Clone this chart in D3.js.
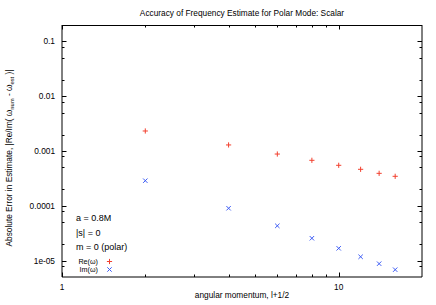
<!DOCTYPE html>
<html>
<head>
<meta charset="utf-8">
<script src="https://cdn.jsdelivr.net/npm/d3@7"></script>
<style>
  html, body { margin: 0; padding: 0; background: #fff; }
  svg { display: block; font-family: "Liberation Sans", Arial, sans-serif; }
</style>
</head>
<body>
<svg id="chart" width="436" height="305"></svg>
<script>
// ---- data ----
const angularMomentum = [2, 4, 6, 8, 10, 12, 14, 16];           // l + 1/2
const reError = [0.00232, 0.00129, 0.00088, 0.000676, 0.000548, 0.000463, 0.000391, 0.000345];
const imError = [2.87e-4, 9.0e-5, 4.3e-5, 2.55e-5, 1.67e-5, 1.17e-5, 8.75e-6, 6.8e-6];
const yTickValues = [0.1, 0.01, 0.001, 0.0001, 1e-5];
const yTickLabels = ["0.1", "0.01", "0.001", "0.0001", "1e-05"];
const xTickValues = [1, 10];
const xTickLabels = ["1", "10"];
const annotations = ["a = 0.8M", "|s| = 0", "m = 0 (polar)"];
const seriesNames = ["Re(\u03c9)", "Im(\u03c9)"];

// ---- layout ----
const L = 62, R = 422, T = 25, B = 277;
const x = d3.scaleLog().domain([1, 20]).range([L, R]);
const y = d3.scaleLog().domain([5e-6, 0.2]).range([B, T]);
const svg = d3.select("#chart");
const red = "#f2402f", blue = "#3d5cf5";
const fs = 8.3;

// minor ticks
const yMinor = [];
[-6, -5, -4, -3, -2, -1].forEach(e => [2, 5, 8].forEach(m => {
  const v = m * Math.pow(10, e);
  if (v > 5e-6 && v < 0.2) yMinor.push(v);
}));
const xMinor = [2, 3, 4, 5, 6, 7, 8, 9];

const g = svg.append("g");
const majLen = 4.5, minLen = 2.5;
// y ticks left & right
yTickValues.forEach(v => {
  const py = Math.round(y(v)) + 0.5;
  g.append("line").attr("x1", L).attr("x2", L + majLen).attr("y1", py).attr("y2", py).attr("stroke", "#000").attr("stroke-width", 1);
  g.append("line").attr("x1", R - majLen).attr("x2", R).attr("y1", py).attr("y2", py).attr("stroke", "#000").attr("stroke-width", 1);
});
yMinor.forEach(v => {
  const py = Math.round(y(v)) + 0.5;
  g.append("line").attr("x1", L).attr("x2", L + minLen).attr("y1", py).attr("y2", py).attr("stroke", "#000").attr("stroke-width", 1);
  g.append("line").attr("x1", R - minLen).attr("x2", R).attr("y1", py).attr("y2", py).attr("stroke", "#000").attr("stroke-width", 1);
});
// x ticks bottom & top
xTickValues.forEach(v => {
  const px = Math.round(x(v)) + 0.5;
  g.append("line").attr("x1", px).attr("x2", px).attr("y1", B).attr("y2", B - majLen).attr("stroke", "#000");
  g.append("line").attr("x1", px).attr("x2", px).attr("y1", T).attr("y2", T + majLen).attr("stroke", "#000");
});
xMinor.forEach(v => {
  const px = Math.round(x(v)) + 0.5;
  g.append("line").attr("x1", px).attr("x2", px).attr("y1", B).attr("y2", B - minLen).attr("stroke", "#000");
  g.append("line").attr("x1", px).attr("x2", px).attr("y1", T).attr("y2", T + minLen).attr("stroke", "#000");
});

// border
g.append("line").attr("x1", L).attr("x2", R).attr("y1", T + 0.5).attr("y2", T + 0.5).attr("stroke", "#000");
g.append("line").attr("x1", L).attr("x2", L).attr("y1", T).attr("y2", B).attr("stroke", "#000");
g.append("line").attr("x1", R).attr("x2", R).attr("y1", T).attr("y2", B).attr("stroke", "#000");
g.append("line").attr("x1", L).attr("x2", R).attr("y1", B).attr("y2", B).attr("stroke", "#000");

// tick labels
yTickValues.forEach((v, i) => {
  svg.append("text").attr("x", 55).attr("y", y(v)).attr("dy", "0.36em")
    .attr("text-anchor", "end").attr("font-size", fs).text(yTickLabels[i]);
});
xTickValues.forEach((v, i) => {
  svg.append("text").attr("x", x(v)).attr("y", 290)
    .attr("text-anchor", "middle").attr("font-size", fs).text(xTickLabels[i]);
});

// title
svg.append("text").attr("x", (L + R) / 2).attr("y", 16).attr("text-anchor", "middle")
  .attr("font-size", fs).text("Accuracy of Frequency Estimate for Polar Mode: Scalar");
// x label
svg.append("text").attr("x", (L + R) / 2).attr("y", 298).attr("text-anchor", "middle")
  .attr("font-size", fs).text("angular momentum, l+1/2");
// y label
const yl = svg.append("text").attr("transform", "translate(12,158) rotate(-90)")
  .attr("text-anchor", "middle").attr("font-size", fs);
yl.append("tspan").text("Absolute Error in Estimate, |Re/Im( \u03c9");
yl.append("tspan").attr("font-size", fs * 0.7).attr("dy", 2).text("num");
yl.append("tspan").attr("dy", -2).text(" - \u03c9");
yl.append("tspan").attr("font-size", fs * 0.7).attr("dy", 2).text("est");
yl.append("tspan").attr("dy", -2).text(" )|");

// annotations
annotations.forEach((t, i) => {
  svg.append("text").attr("x", 76).attr("y", 221 + i * 14.5).attr("font-size", 9).text(t);
});

// markers
function plus(sel, cx, cy, s) {
  sel.append("path").attr("d", `M${cx - s},${cy}H${cx + s}M${cx},${cy - s}V${cy + s}`)
    .attr("stroke", red).attr("stroke-width", 1).attr("fill", "none");
}
function cross(sel, cx, cy, s) {
  sel.append("path").attr("d", `M${cx - s},${cy - s}L${cx + s},${cy + s}M${cx - s},${cy + s}L${cx + s},${cy - s}`)
    .attr("stroke", blue).attr("stroke-width", 1).attr("fill", "none");
}
const pts = svg.append("g");
angularMomentum.forEach((l, i) => plus(pts, x(l), y(reError[i]), 2.6));
angularMomentum.forEach((l, i) => cross(pts, x(l), y(imError[i]), 2.2));

// legend
const legY = [261.5, 269.5];
seriesNames.forEach((n, i) => {
  svg.append("text").attr("x", 98).attr("y", legY[i]).attr("dy", "0.35em")
    .attr("text-anchor", "end").attr("font-size", 7.2).text(n);
});
plus(svg, 109.5, legY[0], 2.6);
cross(svg, 109.5, legY[1], 2.2);
</script>
</body>
</html>
